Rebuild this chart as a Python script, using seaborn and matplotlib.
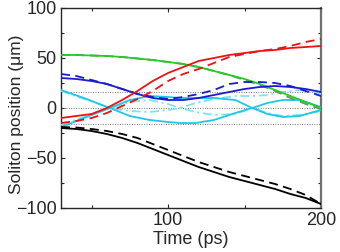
import matplotlib
matplotlib.use("Agg")
import matplotlib.pyplot as plt
import seaborn as sns
from matplotlib.ticker import MultipleLocator

sns.set_style("ticks")
plt.rcParams['font.family'] = ['Liberation Sans', 'DejaVu Sans']

# ---- data ----
t_std = [30, 40, 50, 60, 70, 80, 90, 100, 110, 120, 130, 140, 150, 160, 170, 180, 190, 200]

black_solid = [-20, -21, -23, -26, -30, -35, -41, -47, -53, -59, -64, -69, -73, -77, -81, -86, -90, -96]
black_dash = [-19, -19.5, -21, -23, -26, -30, -36, -42, -48, -54, -59, -64, -68, -72, -76, -81, -87, -96]

red_solid = [-10, -8, -6, 0, 8, 17, 27, 35, 41, 47, 50, 53, 55, 57, 58, 60, 61, 62]
red_dash = [-15, -13, -10, -5, 2, 9, 17, 27, 34, 39, 45, 51, 54, 57, 59, 62, 66, 69]

green_solid = [53, 53, 52.5, 52, 51, 49.5, 48, 46, 44, 41, 37, 33, 29, 24, 18, 12, 6, 0]
green_dash = [53, 53, 52.5, 52, 51, 49.5, 48, 46, 44, 41, 37, 33, 28, 23, 17, 10, 4, -1]

blue_solid = [30, 29, 27, 24, 19, 14, 10, 8, 8, 10, 13, 16, 19, 21, 22, 21, 19, 16]
blue_dash = [34, 32, 28, 24, 19, 14, 11, 9, 11, 14, 18, 24, 26, 26, 25, 22, 17, 12]

t_cyan = [30, 45, 62, 75, 88, 100, 108, 118, 130, 144, 155, 165, 175, 186, 200]
cyan_a = [18, 10, 0, -8, -12, -14, -15, -15, -12, -5, 0, 5, 8, 8, 1]
cyan_b = [-19, -10, 0, 8, 12, 11, 10, 10, 10, 8, 0, -6, -9, -8, -2]
cyan_c = [17, 9, 0, -3, -4, -2, 0, 5, 9, 12, 12, 13, 16, 18, 14]
cyan_d = [-17, -9, 0, 6, 8, 4, 0, -4, -7, -6, 0, -5, -8, -7, -3]

hlines = [16, 0, -16]

x_ticks = [100, 200]
y_ticks = [-100, -50, 0, 50, 100]

# ---- figure ----
fig = plt.figure(figsize=(3.4, 2.52), dpi=100)
ax = fig.add_axes([61/340, 1 - 208/252, 260/340, 200/252])

for h in hlines:
    ax.axhline(h, color='#777777', lw=0.7, ls=(0, (1, 1.5)), zorder=1)

lw = 1.3
dash = (0, (5, 3))
dashdot = (0, (5, 2, 1.2, 2))
series = [
    (t_cyan, cyan_c, '#7fe3f2', dashdot),
    (t_cyan, cyan_d, '#7fe3f2', dashdot),
    (t_cyan, cyan_a, '#1cc8e6', '-'),
    (t_cyan, cyan_b, '#1cc8e6', '-'),
    (t_std, green_dash, '#5a9a5a', dash),
    (t_std, green_solid, '#22cc22', '-'),
    (t_std, blue_dash, '#1a1ad0', dash),
    (t_std, blue_solid, '#1a1ad0', '-'),
    (t_std, red_dash, '#ee1111', dash),
    (t_std, red_solid, '#ee1111', '-'),
    (t_std, black_dash, '#000000', dash),
    (t_std, black_solid, '#000000', '-'),
]
for xs, ys, c, ls in series:
    sns.lineplot(x=xs, y=ys, ax=ax, color=c, lw=lw, linestyle=ls, zorder=3)

ax.set_xlim(30, 200)
ax.set_ylim(-100, 100)
ax.set_xticks(x_ticks)
ax.set_yticks(y_ticks)
ax.xaxis.set_minor_locator(MultipleLocator(50))
ax.yaxis.set_minor_locator(MultipleLocator(25))
ax.tick_params(which='both', direction='in', top=True, right=True, labelsize=13, pad=3)
ax.tick_params(which='major', length=3, width=0.8)
ax.tick_params(which='minor', length=2, width=0.8)
for s in ax.spines.values():
    s.set_linewidth(1.0)
ax.spines['right'].set_color('#707070')
ax.spines['right'].set_linewidth(1.6)

ax.set_xlabel('Time (ps)', fontsize=13, labelpad=1)
ax.set_ylabel('Soliton position (μm)', fontsize=12.5, va='center')
ax.yaxis.set_label_coords(-0.172, 0.47)

fig.savefig('out.png', dpi=100)
